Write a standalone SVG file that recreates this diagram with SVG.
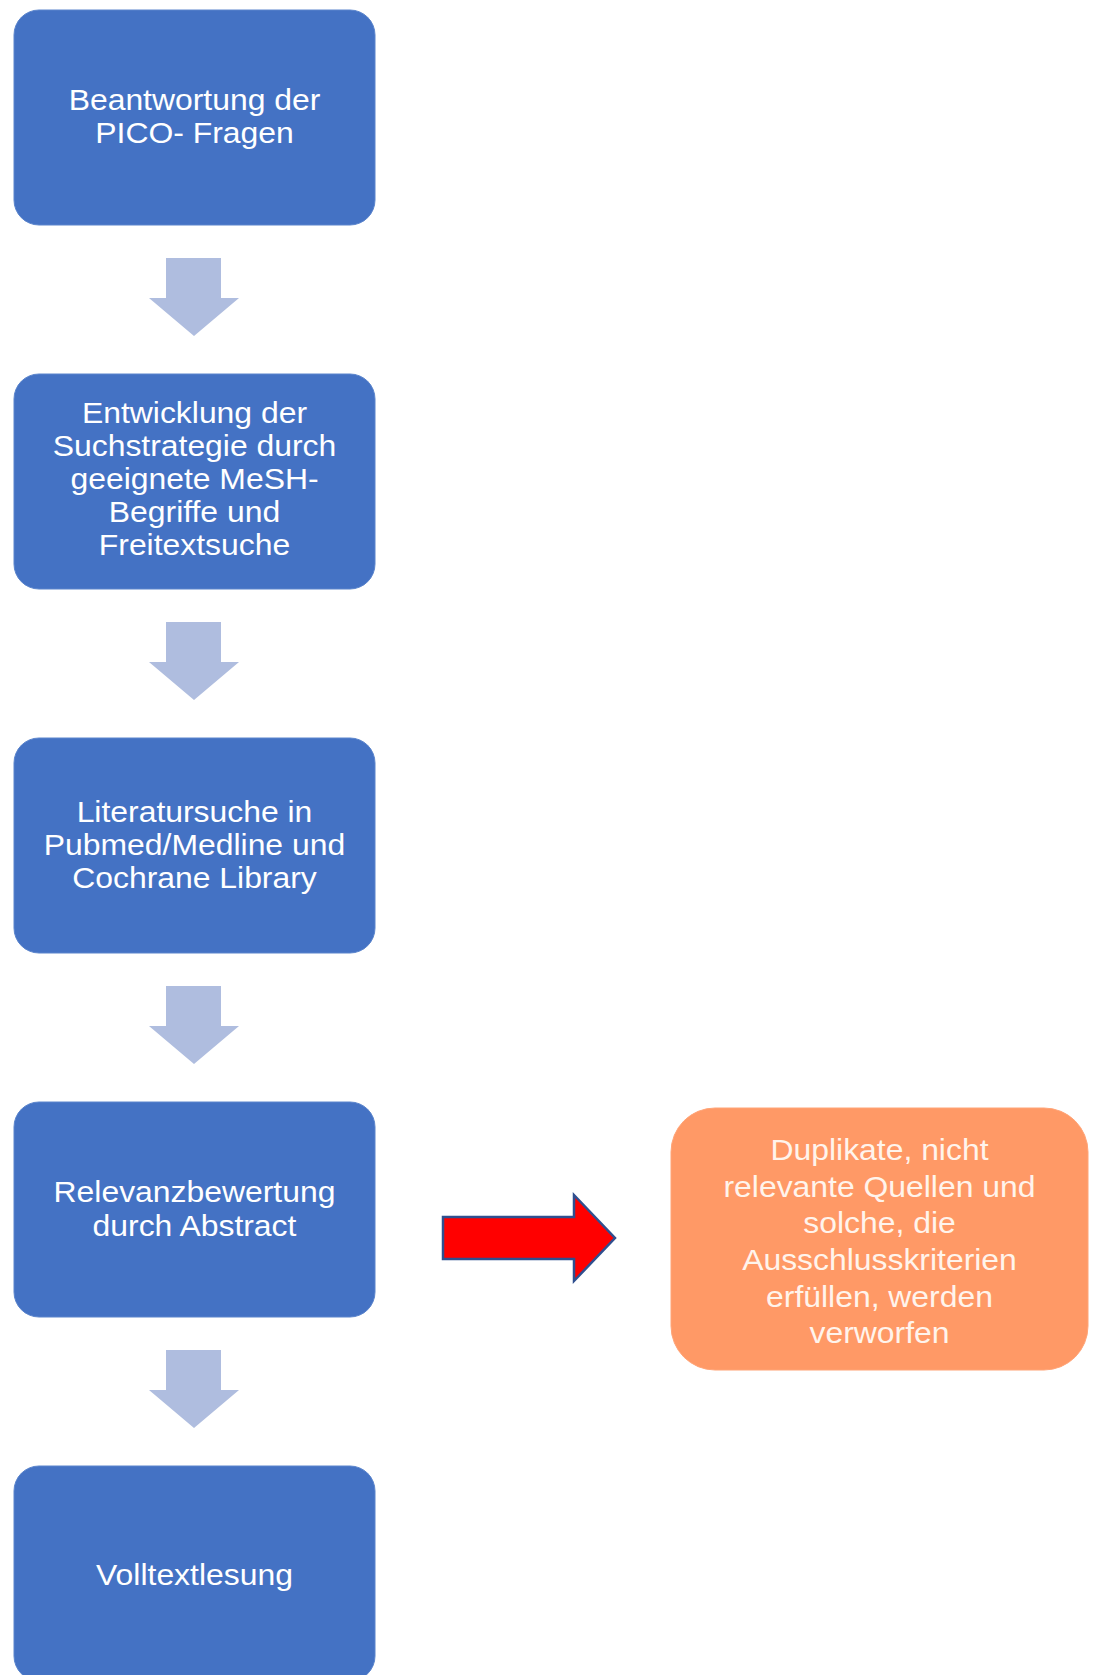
<svg xmlns="http://www.w3.org/2000/svg" width="1093" height="1675" viewBox="0 0 1093 1675">
<style>
.box{fill:#4472C4;stroke:#5A84CC;stroke-width:1}
.obox{fill:#FF9966;stroke:#FFA477;stroke-width:1}
.t{font-family:"Liberation Sans",Arial,sans-serif;font-size:29px;fill:#FFFFFF;text-anchor:middle}
.ot{font-family:"Liberation Sans",Arial,sans-serif;font-size:29px;fill:#FFF4EC;text-anchor:middle}
.down{fill:#AFBDDF}
.red{fill:#FF0000;stroke:#2F4F8F;stroke-width:2.5;stroke-linejoin:miter}
</style>
<rect width="1093" height="1675" fill="#FFFFFF"/>
<g id="connectors">
<polygon class="down" points="166,258 221,258 221,298 239,298 194,336 149,298 166,298"/>
<polygon class="down" points="166,622 221,622 221,662 239,662 194,700 149,662 166,662"/>
<polygon class="down" points="166,986 221,986 221,1026 239,1026 194,1064 149,1026 166,1026"/>
<polygon class="down" points="166,1350 221,1350 221,1390 239,1390 194,1428 149,1390 166,1390"/>
<polygon class="red" points="443,1217 574,1217 574,1195 615,1238 574,1281 574,1259 443,1259"/>
</g>
<g id="node1">
<rect class="box" x="14" y="10" width="361" height="215" rx="25"/>
<g transform="translate(194.5 0) scale(1.1 1) translate(-194.5 0)">
<text class="t" x="194.5" y="110">Beantwortung der</text>
<text class="t" x="194.5" y="143">PICO- Fragen</text>
</g>
</g>
<g id="node2">
<rect class="box" x="14" y="374" width="361" height="215" rx="25"/>
<g transform="translate(194.5 0) scale(1.1 1) translate(-194.5 0)">
<text class="t" x="194.5" y="423">Entwicklung der</text>
<text class="t" x="194.5" y="456">Suchstrategie durch</text>
<text class="t" x="194.5" y="489">geeignete MeSH-</text>
<text class="t" x="194.5" y="522">Begriffe und</text>
<text class="t" x="194.5" y="555">Freitextsuche</text>
</g>
</g>
<g id="node3">
<rect class="box" x="14" y="738" width="361" height="215" rx="25"/>
<g transform="translate(194.5 0) scale(1.1 1) translate(-194.5 0)">
<text class="t" x="194.5" y="822">Literatursuche in</text>
<text class="t" x="194.5" y="855">Pubmed/Medline und</text>
<text class="t" x="194.5" y="888">Cochrane Library</text>
</g>
</g>
<g id="node4">
<rect class="box" x="14" y="1102" width="361" height="215" rx="25"/>
<g transform="translate(194.5 0) scale(1.1 1) translate(-194.5 0)">
<text class="t" x="194.5" y="1202">Relevanzbewertung</text>
<text class="t" x="194.5" y="1236">durch Abstract</text>
</g>
</g>
<g id="node5">
<rect class="box" x="14" y="1466" width="361" height="215" rx="25"/>
<g transform="translate(194.5 0) scale(1.1 1) translate(-194.5 0)">
<text class="t" x="194.5" y="1585">Volltextlesung</text>
</g>
</g>
<g id="node6">
<rect class="obox" x="671" y="1108" width="417" height="262" rx="44"/>
<g transform="translate(879.5 0) scale(1.1 1) translate(-879.5 0)">
<text class="ot" x="879.5" y="1160">Duplikate, nicht</text>
<text class="ot" x="879.5" y="1197">relevante Quellen und</text>
<text class="ot" x="879.5" y="1233">solche, die</text>
<text class="ot" x="879.5" y="1270">Ausschlusskriterien</text>
<text class="ot" x="879.5" y="1307">erfüllen, werden</text>
<text class="ot" x="879.5" y="1343">verworfen</text>
</g>
</g>
</svg>
